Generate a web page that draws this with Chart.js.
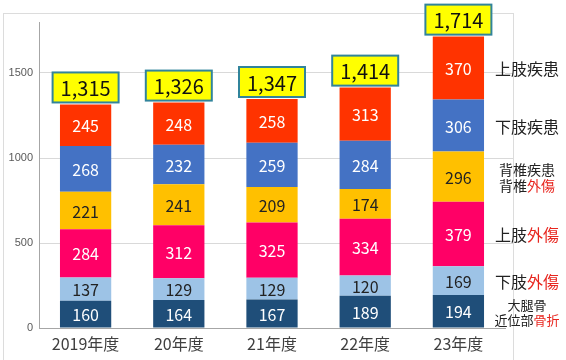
<!DOCTYPE html>
<html>
<head>
<meta charset="utf-8">
<script src="https://cdn.jsdelivr.net/npm/chart.js@4.4.1/dist/chart.umd.min.js"></script>
<style>
html,body{margin:0;padding:0;background:#fff;}
#wrap{width:566px;height:360px;position:relative;}
</style>
</head>
<body>
<div id="wrap"><canvas id="c" width="566" height="360"></canvas></div>
<script>
const categories = ["2019年度", "20年度", "21年度", "22年度", "23年度"];
const femurFracture = [160, 164, 167, 189, 194];
const lowerLimbTrauma = [137, 129, 129, 120, 169];
const upperLimbTrauma = [284, 312, 325, 334, 379];
const spine = [221, 241, 209, 174, 296];
const lowerLimbDisease = [268, 232, 259, 284, 306];
const upperLimbDisease = [245, 248, 258, 313, 370];
const totals = ["1,315", "1,326", "1,347", "1,414", "1,714"];
const yTicks = [0, 500, 1000, 1500];

const FONT = '"Noto Sans CJK JP", "Noto Sans", sans-serif';
const RED = '#e8261f';
const INK = '#222222';

const seriesDefs = [
  {label: "大腿骨近位部骨折", data: femurFracture, color: '#1f4e79', text: '#ffffff',
   side: [[["大腿骨", INK]], [["近位部", INK], ["骨折", RED]]], size: 13},
  {label: "下肢外傷", data: lowerLimbTrauma, color: '#9dc3e6', text: INK,
   side: [[["下肢", INK], ["外傷", RED]]], size: 16},
  {label: "上肢外傷", data: upperLimbTrauma, color: '#ff0066', text: '#ffffff',
   side: [[["上肢", INK], ["外傷", RED]]], size: 16},
  {label: "背椎", data: spine, color: '#ffc000', text: INK,
   side: [[["背椎疾患", INK]], [["背椎", INK], ["外傷", RED]]], size: 14},
  {label: "下肢疾患", data: lowerLimbDisease, color: '#4472c4', text: '#ffffff',
   side: [[["下肢疾患", INK]]], size: 16},
  {label: "上肢疾患", data: upperLimbDisease, color: '#ff3300', text: '#ffffff',
   side: [[["上肢疾患", INK]]], size: 16}
];

const labelPlugin = {
  id: 'labels',
  beforeDraw(chart) {
    const ctx = chart.ctx;
    ctx.save();
    ctx.strokeStyle = '#dcdcdc';
    ctx.lineWidth = 1;
    ctx.strokeRect(3.5, 13.5, 510, 400);
    const y = chart.scales.y;
    ctx.strokeStyle = '#d9d9d9';
    yTicks.forEach(v => {
      if (v === 0) return;
      const py = Math.round(y.getPixelForValue(v)) + 0.5;
      ctx.beginPath();
      ctx.moveTo(chart.chartArea.right, py);
      ctx.lineTo(513, py);
      ctx.stroke();
    });
    ctx.restore();
  },
  afterDatasetsDraw(chart) {
    const ctx = chart.ctx;
    ctx.save();
    ctx.textAlign = 'center';
    ctx.textBaseline = 'middle';
    chart.data.datasets.forEach((ds, di) => {
      const meta = chart.getDatasetMeta(di);
      meta.data.forEach((bar, i) => {
        ctx.fillStyle = seriesDefs[di].text;
        ctx.font = '16px ' + FONT;
        ctx.fillText(String(ds.data[i]), bar.x, (bar.y + bar.base) / 2 + 1);
      });
    });
    const lastMeta = chart.getDatasetMeta(chart.data.datasets.length - 1);
    lastMeta.data.forEach((bar, i) => {
      const w = 66, h = 30;
      const bx = bar.x - w / 2, by = bar.y - 2 - h;
      ctx.fillStyle = '#ffff00';
      ctx.fillRect(bx, by, w, h);
      ctx.strokeStyle = '#31849b';
      ctx.lineWidth = 2;
      ctx.strokeRect(bx, by, w, h);
      ctx.fillStyle = '#111111';
      ctx.font = '20px ' + FONT;
      ctx.fillText(totals[i], bar.x, by + h / 2 + 1);
    });
    const lastIdx = categories.length - 1;
    const cx = 527;
    ctx.textAlign = 'left';
    seriesDefs.forEach((s, di) => {
      const bar = chart.getDatasetMeta(di).data[lastIdx];
      const mid = (bar.y + bar.base) / 2;
      ctx.font = s.size + 'px ' + FONT;
      const lh = s.size + 2;
      const n = s.side.length;
      s.side.forEach((line, li) => {
        const ly = mid + (li - (n - 1) / 2) * lh + 1;
        const total = line.reduce((a, p) => a + ctx.measureText(p[0]).width, 0);
        let x = cx - total / 2;
        line.forEach(p => {
          ctx.fillStyle = p[1];
          ctx.fillText(p[0], x, ly);
          x += ctx.measureText(p[0]).width;
        });
      });
    });
    ctx.restore();
  }
};

new Chart(document.getElementById('c'), {
  type: 'bar',
  data: {
    labels: categories,
    datasets: seriesDefs.map(s => ({
      label: s.label,
      data: s.data,
      backgroundColor: s.color,
      borderWidth: 0,
      categoryPercentage: 1,
      barPercentage: 0.55
    }))
  },
  options: {
    responsive: false,
    animation: false,
    devicePixelRatio: 1,
    layout: {padding: {left: 0, right: 61, top: 22, bottom: 0}},
    plugins: {legend: {display: false}, tooltip: {enabled: false}},
    scales: {
      x: {
        stacked: true,
        grid: {display: false, drawTicks: false},
        border: {display: true, color: '#a6a6a6', width: 1},
        ticks: {color: '#404040', font: {size: 16, family: FONT}, padding: 6, maxRotation: 0},
        afterFit(s) { s.height = 32; }
      },
      y: {
        stacked: true,
        min: 0,
        max: 1800,
        grid: {color: '#d9d9d9', drawTicks: false},
        border: {display: true, color: '#a6a6a6', width: 1},
        ticks: {
          color: '#595959',
          font: {size: 11, family: '"Liberation Sans", Arial, sans-serif'},
          padding: 6,
          callback: v => String(v)
        },
        afterBuildTicks(s) { s.ticks = yTicks.map(v => ({value: v})); },
        afterFit(s) { s.width = 39; }
      }
    }
  },
  plugins: [labelPlugin]
});
</script>
</body>
</html>
